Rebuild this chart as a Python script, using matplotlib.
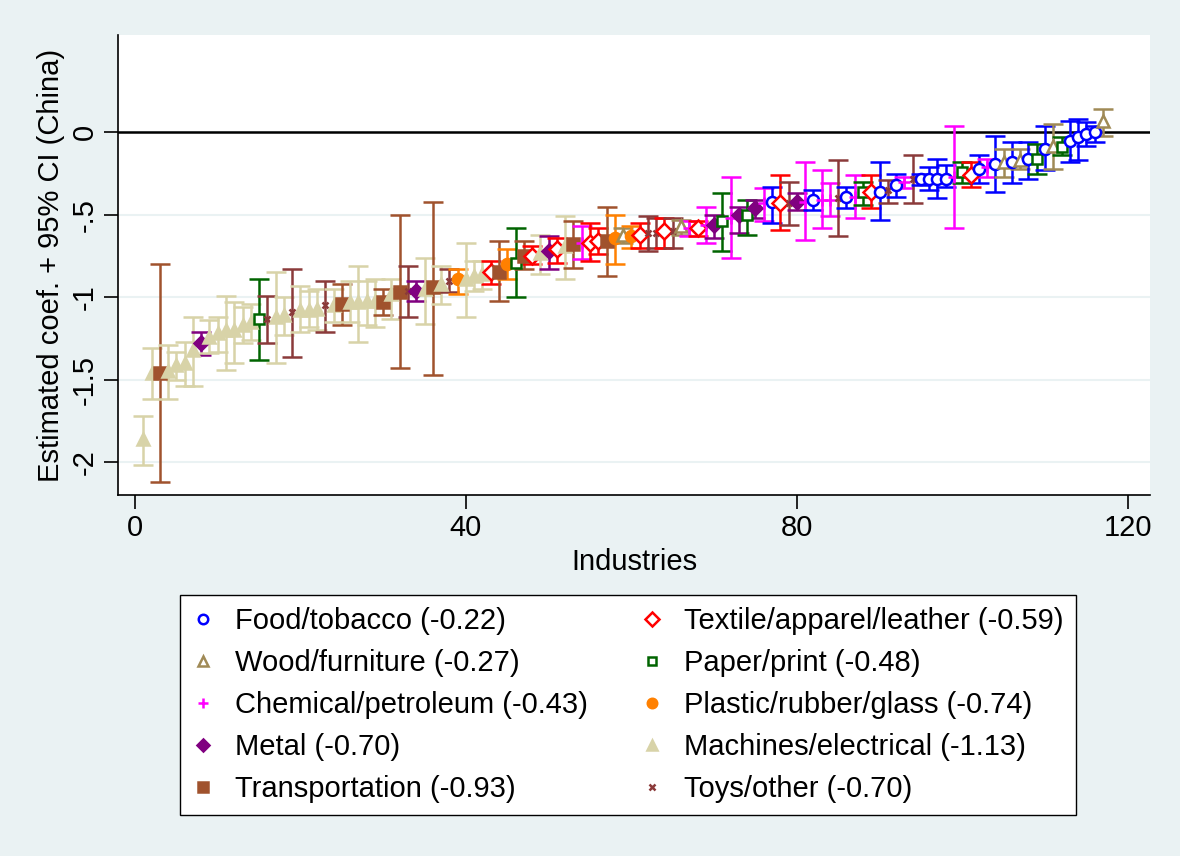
import matplotlib.pyplot as plt
from matplotlib.lines import Line2D

plt.rcParams['font.family'] = ['Liberation Sans', 'DejaVu Sans']

# category codes per industry (sorted by estimated coefficient)
cats = ['M', 'M', 'T', 'M', 'M', 'M', 'M', 'Me', 'M', 'M',
        'M', 'M', 'M', 'M', 'P', 'Y', 'M', 'M', 'Y', 'M',
        'M', 'M', 'Y', 'M', 'T', 'M', 'M', 'M', 'M', 'T',
        'M', 'T', 'Y', 'Me', 'M', 'T', 'M', 'Y', 'Pl', 'M',
        'M', 'M', 'Tx', 'T', 'Pl', 'P', 'T', 'Tx', 'M', 'Me',
        'Tx', 'M', 'T', 'C', 'Tx', 'Tx', 'T', 'Pl', 'W', 'Pl',
        'Tx', 'Y', 'Y', 'Tx', 'Y', 'W', 'C', 'Tx', 'C', 'Me',
        'P', 'C', 'Me', 'P', 'Me', 'C', 'F', 'Tx', 'Y', 'Me',
        'C', 'F', 'C', 'C', 'Y', 'F', 'C', 'P', 'Tx', 'F',
        'Y', 'F', 'C', 'Y', 'F', 'F', 'F', 'F', 'C', 'P',
        'Tx', 'F', 'C', 'F', 'W', 'F', 'W', 'F', 'P', 'F',
        'W', 'P', 'F', 'F', 'F', 'F', 'W']

coef = [-1.86, -1.46, -1.46, -1.45, -1.41, -1.40, -1.32, -1.28, -1.24, -1.22,
        -1.20, -1.20, -1.17, -1.15, -1.13, -1.13, -1.12, -1.11, -1.09, -1.08,
        -1.08, -1.07, -1.05, -1.05, -1.04, -1.03, -1.03, -1.02, -1.02, -1.03,
        -0.98, -0.97, -0.96, -0.96, -0.95, -0.94, -0.92, -0.90, -0.89, -0.89,
        -0.87, -0.86, -0.85, -0.85, -0.80, -0.79, -0.75, -0.75, -0.73, -0.72,
        -0.71, -0.69, -0.68, -0.67, -0.67, -0.66, -0.66, -0.64, -0.62, -0.63,
        -0.62, -0.61, -0.61, -0.60, -0.60, -0.57, -0.58, -0.58, -0.56, -0.56,
        -0.54, -0.52, -0.50, -0.50, -0.46, -0.43, -0.42, -0.43, -0.43, -0.42,
        -0.42, -0.41, -0.41, -0.41, -0.40, -0.39, -0.39, -0.36, -0.36, -0.36,
        -0.35, -0.32, -0.30, -0.28, -0.28, -0.28, -0.28, -0.28, -0.27, -0.24,
        -0.26, -0.22, -0.21, -0.19, -0.18, -0.18, -0.17, -0.16, -0.16, -0.10,
        -0.08, -0.09, -0.05, -0.03, -0.01, 0.00, 0.07]

ci_lo = [-2.02, -1.62, -2.12, -1.62, -1.50, -1.54, -1.54, -1.35, -1.34, -1.33,
         -1.44, -1.40, -1.28, -1.26, -1.38, -1.28, -1.40, -1.23, -1.36, -1.21,
         -1.18, -1.20, -1.21, -1.15, -1.17, -1.15, -1.27, -1.17, -1.18, -1.11,
         -1.13, -1.43, -1.12, -1.02, -1.16, -1.47, -1.04, -0.97, -0.98, -1.12,
         -0.96, -0.95, -0.92, -1.02, -0.89, -1.00, -0.83, -0.80, -0.86, -0.83,
         -0.79, -0.89, -0.82, -0.77, -0.78, -0.74, -0.87, -0.80, -0.67, -0.70,
         -0.70, -0.72, -0.70, -0.70, -0.70, -0.62, -0.63, -0.63, -0.67, -0.64,
         -0.72, -0.76, -0.61, -0.62, -0.52, -0.54, -0.55, -0.59, -0.56, -0.47,
         -0.65, -0.47, -0.58, -0.51, -0.63, -0.46, -0.52, -0.44, -0.46, -0.53,
         -0.43, -0.39, -0.34, -0.43, -0.32, -0.35, -0.40, -0.33, -0.58, -0.31,
         -0.33, -0.31, -0.27, -0.36, -0.27, -0.31, -0.22, -0.28, -0.25, -0.23,
         -0.22, -0.14, -0.18, -0.17, -0.08, -0.06, -0.02]

ci_hi = [-1.72, -1.31, -0.80, -1.29, -1.33, -1.27, -1.12, -1.21, -1.14, -1.12,
         -0.99, -1.03, -1.06, -1.04, -0.89, -0.99, -0.85, -1.00, -0.83, -0.93,
         -0.96, -0.95, -0.90, -0.95, -0.92, -0.90, -0.81, -0.90, -0.89, -0.95,
         -0.89, -0.50, -0.81, -0.90, -0.76, -0.42, -0.81, -0.83, -0.83, -0.67,
         -0.78, -0.78, -0.78, -0.66, -0.71, -0.58, -0.66, -0.69, -0.62, -0.63,
         -0.64, -0.51, -0.54, -0.57, -0.55, -0.58, -0.45, -0.50, -0.58, -0.57,
         -0.55, -0.51, -0.52, -0.52, -0.52, -0.53, -0.54, -0.54, -0.45, -0.50,
         -0.37, -0.27, -0.45, -0.41, -0.41, -0.34, -0.33, -0.26, -0.30, -0.37,
         -0.18, -0.35, -0.23, -0.31, -0.17, -0.33, -0.26, -0.30, -0.26, -0.18,
         -0.29, -0.25, -0.27, -0.14, -0.25, -0.21, -0.16, -0.20, 0.04, -0.18,
         -0.18, -0.14, -0.16, -0.02, -0.10, -0.06, -0.10, -0.06, -0.07, 0.04,
         0.05, -0.03, 0.07, 0.08, 0.06, 0.04, 0.14]

# legend order, column by column (reads row-wise as in the original)
groups = ['F', 'W', 'C', 'Me', 'T', 'Tx', 'P', 'Pl', 'M', 'Y']
group_labels = ['Food/tobacco (-0.22)', 'Wood/furniture (-0.27)',
                'Chemical/petroleum (-0.43)', 'Metal (-0.70)',
                'Transportation (-0.93)', 'Textile/apparel/leather (-0.59)',
                'Paper/print (-0.48)', 'Plastic/rubber/glass (-0.74)',
                'Machines/electrical (-1.13)', 'Toys/other (-0.70)']

style = {
    'F': dict(color='#0000ff', marker='o', fill=False, ms=8),
    'Tx': dict(color='#ff0000', marker='D', fill=False, ms=8),
    'W': dict(color='#a08a56', marker='^', fill=False, ms=9),
    'P': dict(color='#006400', marker='s', fill=False, ms=6.5),
    'C': dict(color='#ff00ff', marker='+', fill=True, ms=9),
    'Pl': dict(color='#ff8000', marker='o', fill=True, ms=8),
    'Me': dict(color='#800080', marker='D', fill=True, ms=7.5),
    'M': dict(color='#d8d3a8', marker='^', fill=True, ms=9),
    'T': dict(color='#a0522d', marker='s', fill=True, ms=8),
    'Y': dict(color='#8b3a3a', marker='x', fill=True, ms=5),
}

bg = '#eaf2f3'
fig = plt.figure(figsize=(11.8, 8.56), dpi=100, facecolor=bg)
ax = fig.add_axes([0.1, 0.4217, 0.8746, 0.5373])
ax.set_facecolor('white')

idx = list(range(1, len(coef) + 1))
for i, c, y, lo, hi in zip(idx, cats, coef, ci_lo, ci_hi):
    s = style[c]
    ax.errorbar([i], [y], yerr=[[y - lo], [hi - y]], fmt='none',
                ecolor=s['color'], elinewidth=1.8, capsize=7, capthick=1.8,
                zorder=2)
    mfc = s['color'] if s['fill'] else 'white'
    ax.plot([i], [y], marker=s['marker'], ms=s['ms'], mec=s['color'],
            mfc=mfc, mew=1.8, linestyle='none', zorder=3)

ax.axhline(0, color='black', lw=1.8, zorder=1)
ax.set_xlim(-2.05, 122.7)
ax.set_ylim(-2.2, 0.59)
ax.set_xticks([0, 40, 80, 120])
ax.set_yticks([0, -0.5, -1, -1.5, -2])
ax.set_yticklabels(['0', '-.5', '-1', '-1.5', '-2'], rotation=90, va='center')
ax.grid(axis='y', color=bg, lw=1.5)
ax.set_axisbelow(True)
for side in ['top', 'right']:
    ax.spines[side].set_visible(False)
ax.spines['left'].set_linewidth(1.2)
ax.spines['bottom'].set_linewidth(1.2)
ax.tick_params(labelsize=21, length=10, width=1.2, pad=4)
ax.set_xlabel('Industries', fontsize=21, labelpad=4)
ax.set_ylabel('Estimated coef. + 95% CI (China)', fontsize=21, labelpad=4)

handles = []
for g in groups:
    s = style[g]
    mfc = s['color'] if s['fill'] else 'white'
    handles.append(Line2D([], [], marker=s['marker'], ms=s['ms'] * 0.85,
                          mec=s['color'], mfc=mfc, mew=1.8, linestyle='none'))
leg = fig.legend(handles, group_labels, ncol=2, loc='center',
                 bbox_to_anchor=(0.532, 0.1764), fontsize=21, frameon=True,
                 fancybox=False, edgecolor='black', handlelength=0.8,
                 handletextpad=0.7, columnspacing=1.8, labelspacing=0.48,
                 borderpad=0.4, framealpha=1)
leg.get_frame().set_linewidth(1.0)

fig.savefig('out.png', dpi=100, facecolor=bg)
